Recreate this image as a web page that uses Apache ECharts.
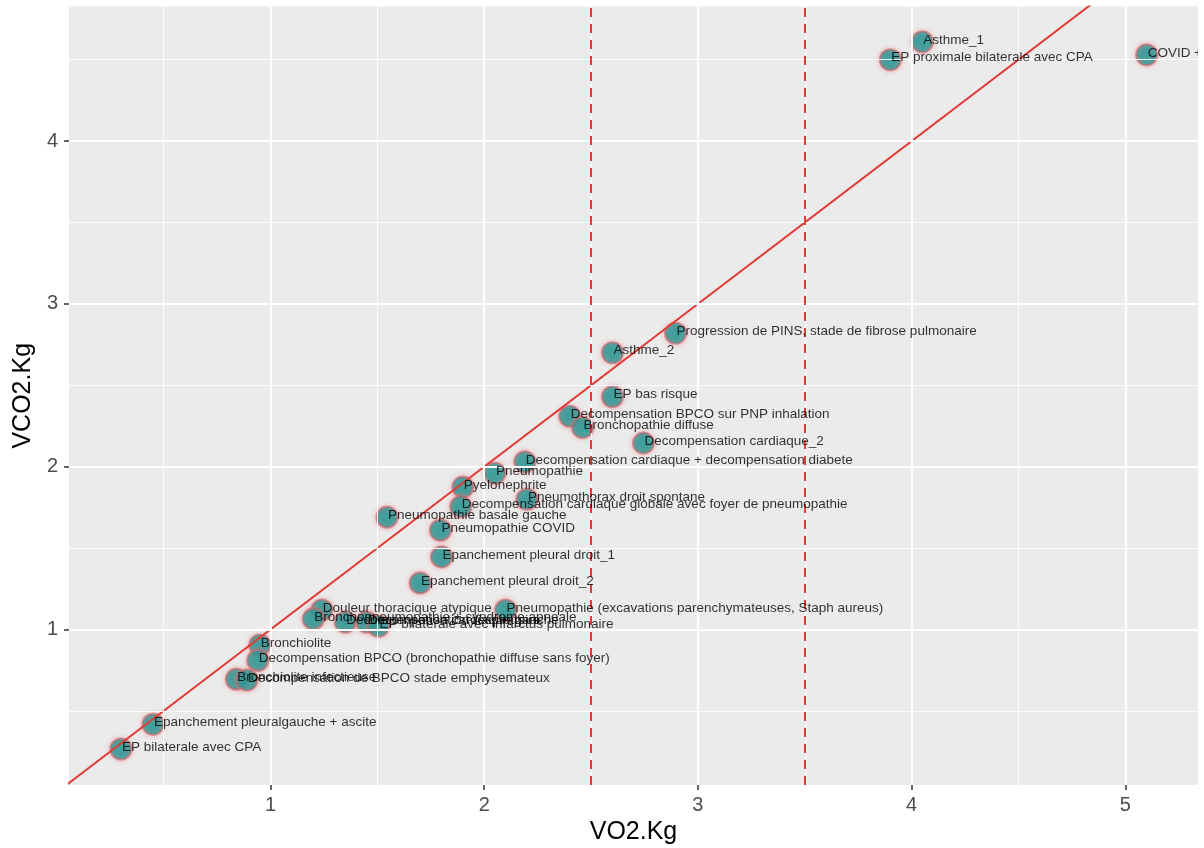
<!DOCTYPE html>
<html>
<head>
<meta charset="utf-8">
<script src="https://cdn.jsdelivr.net/npm/echarts@6/dist/echarts.min.js"></script>
<style>
html,body{margin:0;padding:0;background:#fff;}
#chart{width:1204px;height:848px;}
</style>
</head>
<body>
<div id="chart"></div>
<script>
const labels = [
  "Asthme_1",
  "EP proximale bilaterale avec CPA",
  "COVID + pneumopathie",
  "Progression de PINS, stade de fibrose pulmonaire",
  "Asthme_2",
  "EP bas risque",
  "Decompensation BPCO sur PNP inhalation",
  "Bronchopathie diffuse",
  "Decompensation cardiaque_2",
  "Decompensation cardiaque + decompensation diabete",
  "Pneumopathie",
  "Pyelonephrite",
  "Pneumothorax droit spontane",
  "Decompensation cardiaque globale avec foyer de pneumopathie",
  "Pneumopathie basale gauche",
  "Pneumopathie COVID",
  "Epanchement pleural droit_1",
  "Epanchement pleural droit_2",
  "Douleur thoracique atypique",
  "Pneumopathie (excavations parenchymateuses, Staph aureus)",
  "Bronchopneumopathie + syndrome apneale",
  "Decompensation cardiaque gauche",
  "Decompensation respiratoire",
  "EP bilaterale avec infarctus pulmonaire",
  "Bronchiolite",
  "Decompensation BPCO (bronchopathie diffuse sans foyer)",
  "Bronchiolite infectieuse",
  "Decompensation de BPCO stade emphysemateux",
  "Epanchement pleuralgauche + ascite",
  "EP bilaterale avec CPA"
];
const vo2Kg = [4.05, 3.90, 5.10, 2.895, 2.60, 2.60, 2.40, 2.46, 2.745, 2.19, 2.05, 1.90, 2.20, 1.89, 1.545, 1.795, 1.80, 1.70, 1.24, 2.10, 1.20, 1.35, 1.45, 1.505, 0.95, 0.94, 0.84, 0.89, 0.45, 0.30];
const vco2Kg = [4.61, 4.50, 4.53, 2.82, 2.70, 2.43, 2.31, 2.24, 2.145, 2.03, 1.96, 1.875, 1.80, 1.755, 1.69, 1.61, 1.446, 1.286, 1.12, 1.12, 1.065, 1.045, 1.045, 1.02, 0.905, 0.81, 0.695, 0.69, 0.418, 0.266];

const xTicks = [1, 2, 3, 4, 5];
const yTicks = [1, 2, 3, 4];
const xMinorGrid = [0.5, 1.5, 2.5, 3.5, 4.5];
const yMinorGrid = [0.5, 1.5, 2.5, 3.5, 4.5];
const thresholdsVO2 = [2.5, 3.5];
const identityLine = [[0, 0], [6, 6]];

const FONT = "'Liberation Sans', Arial, sans-serif";
const RED = '#E03B36';

const points = vo2Kg.map((v, i) => [v, vco2Kg[i], labels[i]]);

const chart = echarts.init(document.getElementById('chart'), null, {renderer: 'canvas'});

const gridLine = (w) => ({color: '#ffffff', width: w, type: 'solid'});

chart.setOption({
  animation: false,
  backgroundColor: '#ffffff',
  textStyle: {fontFamily: FONT},
  grid: {left: 69, right: 6, top: 6.5, bottom: 63, show: true, backgroundColor: '#EBEBEB', borderWidth: 0, containLabel: false, outerBoundsMode: 'none'},
  xAxis: {
    type: 'value', min: 0.057, max: 5.34,
    name: 'VO2.Kg', nameLocation: 'middle', nameGap: 35,
    nameTextStyle: {fontSize: 25, color: '#000', fontFamily: FONT},
    axisLine: {show: false},
    axisTick: {show: true, customValues: xTicks, length: 5, lineStyle: {color: '#333', width: 1.5}},
    axisLabel: {customValues: xTicks, fontSize: 20, color: '#4D4D4D', margin: 10, fontFamily: FONT},
    splitLine: {show: false}
  },
  yAxis: {
    type: 'value', min: 0.045, max: 4.827,
    name: 'VCO2.Kg', nameLocation: 'middle', nameGap: 26,
    nameTextStyle: {fontSize: 25, color: '#000', fontFamily: FONT},
    axisLine: {show: false},
    axisTick: {show: true, customValues: yTicks, length: 5, lineStyle: {color: '#333', width: 1.5}},
    axisLabel: {customValues: yTicks, fontSize: 20, color: '#4D4D4D', margin: 11, fontFamily: FONT},
    splitLine: {show: false}
  },
  series: [
    {
      type: 'scatter', data: [], z: 1, silent: true,
      markLine: {
        silent: true, symbol: 'none', animation: false, label: {show: false},
        emphasis: {disabled: true},
        data: [
          ...xMinorGrid.map(v => ({xAxis: v, lineStyle: gridLine(0.9)})),
          ...yMinorGrid.map(v => ({yAxis: v, lineStyle: gridLine(0.9)})),
          ...xTicks.map(v => ({xAxis: v, lineStyle: gridLine(1.9)})),
          ...yTicks.map(v => ({yAxis: v, lineStyle: gridLine(1.9)}))
        ]
      }
    },
    {
      type: 'scatter', data: [], z: 2, silent: true,
      markLine: {
        silent: true, symbol: 'none', animation: false, label: {show: false},
        emphasis: {disabled: true},
        lineStyle: {color: RED, width: 2, type: [9, 7]},
        data: thresholdsVO2.map(v => ({xAxis: v}))
      }
    },
    {
      type: 'scatter', data: points, z: 3, silent: true,
      symbol: 'circle', symbolSize: 21,
      itemStyle: {color: '#159A96', borderColor: 'rgba(200,100,105,0.7)', borderWidth: 2.2, shadowBlur: 5, shadowColor: 'rgba(255,120,125,0.6)'},
      emphasis: {disabled: true},
      label: {show: false}
    },
    {
      type: 'line', data: identityLine, z: 4, silent: true, clip: true,
      symbol: 'none', showSymbol: false,
      lineStyle: {color: RED, width: 2},
      emphasis: {disabled: true}
    },
    {
      type: 'scatter', data: points, z: 5, silent: true,
      symbol: 'circle', symbolSize: 21,
      itemStyle: {color: 'rgba(0,0,0,0)'},
      emphasis: {disabled: true},
      label: {
        show: true, position: 'inside', align: 'left', verticalAlign: 'middle',
        offset: [1, -2], fontSize: 13.5, color: '#000', fontFamily: FONT,
        formatter: p => p.data[2]
      }
    }
  ],
  graphic: [
    {type: 'rect', shape: {x: 1198, y: 0, width: 20, height: 848}, style: {fill: '#ffffff'}, z: 100, silent: true}
  ]
});
</script>
</body>
</html>
